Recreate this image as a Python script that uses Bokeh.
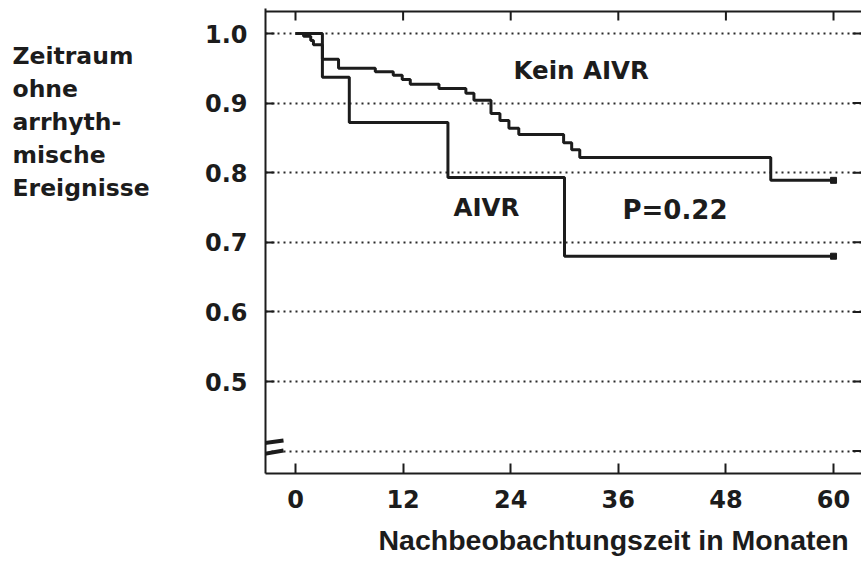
from bokeh.plotting import figure
from bokeh.models import Label, Span, FixedTicker, Title
from bokeh.layouts import row
from bokeh.core.properties import value
from bokeh.embed import file_html
from bokeh.resources import INLINE

# ---------------- data ----------------
months_aivr = [0, 3, 6, 17, 30, 60]
surv_aivr = [1.0, 0.937, 0.872, 0.793, 0.680, 0.680]

months_kein = [0, 0.9, 1.7, 2.0, 3.0, 4.8, 8.9, 10.9, 11.9, 12.8, 16.0, 19.0,
               19.9, 21.8, 22.8, 23.8, 24.9, 29.9, 30.8, 31.7, 53.0, 60]
surv_kein = [1.0, 0.996, 0.990, 0.984, 0.963, 0.950, 0.945, 0.940, 0.934, 0.927,
             0.921, 0.914, 0.904, 0.885, 0.875, 0.864, 0.855, 0.843, 0.833, 0.822,
             0.789, 0.789]

x_ticks = [0, 12, 24, 36, 48, 60]
y_ticks = [0.5, 0.6, 0.7, 0.8, 0.9, 1.0]
y_tick_labels = ["0.5", "0.6", "0.7", "0.8", "0.9", "1.0"]
break_level = 0.4

y_title_lines = ["Zeitraum", "ohne", "arrhyth-", "mische", "Ereignisse"]
x_title = "Nachbeobachtungszeit in Monaten"
label_kein = "Kein AIVR"
label_aivr = "AIVR"
p_text = "P=0.22"

# ---------------- layout ----------------
PAGE_W, PAGE_H = 861, 566
TITLE_W = 190                    # width of the left text panel
PX0, PXM = 295.0, 8.967          # page x of month 0, px per month
PY1, PYV = 33.0, 696.0           # page y of 1.0, px per unit

def mx(px):
    return (px - PX0) / PXM

def vy(py):
    return 1.0 - (py - PY1) / PYV

FL, FR, FT, FB = 265, 861, 8, 473    # frame edges on the page
INK = "#1c1c1c"
BOLD = "DejaVu Sans"

# ---- left panel: y title (horizontal, several lines) ----
fa = figure(width=TITLE_W, height=PAGE_H, output_backend="svg", toolbar_location=None,
            x_range=(0, TITLE_W), y_range=(FB, FT),
            x_axis_location=None, y_axis_location=None,
            min_border_left=0, min_border_right=0,
            min_border_top=FT, min_border_bottom=PAGE_H - FB)
fa.outline_line_color = None
fa.grid.visible = False
title_base = [55 + 33 * i for i in range(len(y_title_lines))]
fa.text(x=[12] * len(y_title_lines), y=title_base, text=y_title_lines,
        text_font=value(BOLD), text_font_style="bold", text_font_size="23.5px",
        text_color=INK, text_align="left", text_baseline="alphabetic")

# ---- main chart ----
p = figure(width=PAGE_W - TITLE_W, height=PAGE_H, output_backend="svg",
           toolbar_location=None,
           x_range=(mx(FL), mx(FR)), y_range=(vy(FB), vy(FT)),
           min_border_left=FL - TITLE_W, min_border_right=PAGE_W - FR,
           min_border_top=FT, min_border_bottom=PAGE_H - FB)
p.outline_line_color = None

# dotted horizontal grid
p.xgrid.visible = False
p.ygrid.ticker = FixedTicker(ticks=[break_level] + y_ticks)
p.ygrid.grid_line_color = "#2a2a2a"
p.ygrid.grid_line_width = 2
p.ygrid.grid_line_dash = "2 4"

# bottom axis
xa = p.xaxis[0]
xa.ticker = FixedTicker(ticks=x_ticks)
xa.axis_line_width = 2
xa.axis_line_color = INK
xa.major_tick_in = 10
xa.major_tick_out = 0
xa.major_tick_line_width = 2
xa.major_tick_line_color = INK
xa.minor_tick_line_color = None
xa.major_label_standoff = 16
xa.major_label_text_font = BOLD
xa.major_label_text_font_style = "bold"
xa.major_label_text_font_size = "24px"
xa.major_label_text_color = INK

# left axis
ya = p.yaxis[0]
ya.ticker = FixedTicker(ticks=y_ticks)
ya.major_label_overrides = {t: s for t, s in zip(y_ticks, y_tick_labels)}
ya.axis_line_width = 2
ya.axis_line_color = INK
ya.major_tick_in = 9
ya.major_tick_out = 0
ya.major_tick_line_width = 2
ya.major_tick_line_color = INK
ya.minor_tick_line_color = None
ya.major_label_standoff = 18
ya.major_label_text_font = BOLD
ya.major_label_text_font_style = "bold"
ya.major_label_text_font_size = "24px"
ya.major_label_text_color = INK

# top frame line with inward ticks, right inward ticks
top_y = vy(11)
p.add_layout(Span(location=top_y, dimension="width", line_color=INK, line_width=2))
p.segment(x0=x_ticks, y0=[top_y] * len(x_ticks), x1=x_ticks,
          y1=[vy(20)] * len(x_ticks), line_color=INK, line_width=2)
right_levels = [break_level] + y_ticks
p.segment(x0=[mx(852)] * len(right_levels), y0=right_levels,
          x1=[mx(FR)] * len(right_levels), y1=right_levels,
          line_color=INK, line_width=2)

# survival curves
p.step(months_kein, surv_kein, mode="after", line_width=3, line_color=INK)
p.step(months_aivr, surv_aivr, mode="after", line_width=3, line_color=INK)
p.scatter([months_kein[-1], months_aivr[-1]], [surv_kein[-1], surv_aivr[-1]],
          marker="square", size=6, color=INK)

# axis break marks on the left axis
p.segment(x0=[mx(FL)], y0=[vy(442)], x1=[mx(FL)], y1=[vy(454)],
          line_color="white", line_width=5)
p.segment(x0=[mx(254), mx(254)], y0=[vy(444), vy(455)],
          x1=[mx(283), mx(283)], y1=[vy(440), vy(450)],
          line_color=INK, line_width=4)

def add_text(txt, px, py, size, font=BOLD):
    p.add_layout(Label(x=mx(px), y=vy(py), text=txt, text_font=font,
                       text_font_style="bold", text_font_size=size,
                       text_color=INK, text_align="left",
                       text_baseline="alphabetic"))

add_text(label_kein, 513, 70, "24.5px")
add_text(label_aivr, 453, 207, "24.5px")
add_text(p_text, 622, 209, "26px")

# x title, placed below the axis, shifted to the right like the original
xt = Title(text=x_title, align="left", offset=378 - FL, standoff=22,
           text_font="Liberation Sans", text_font_style="bold",
           text_font_size="28.5px", text_color=INK)
p.add_layout(xt, "below")

layout = row(fa, p)
open("out.html", "w").write(file_html(layout, INLINE))
